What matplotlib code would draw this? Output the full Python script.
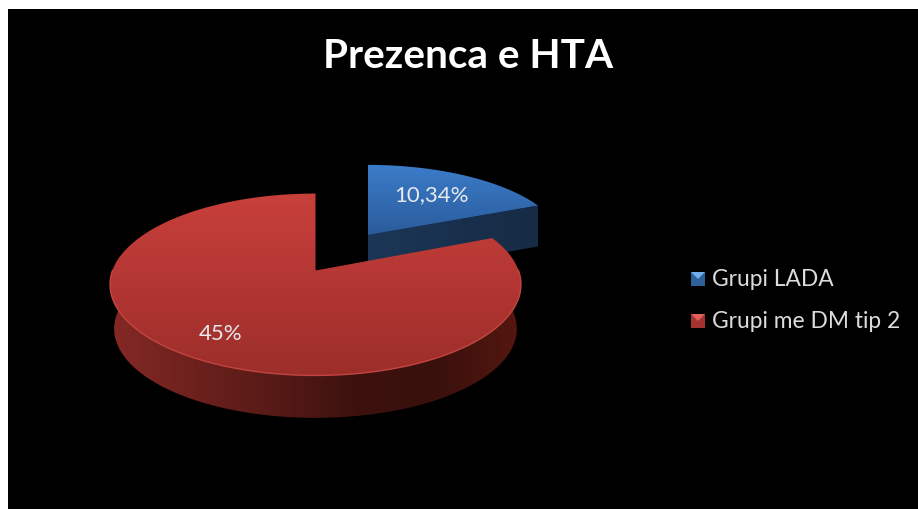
"""Prezenca e HTA - tilted pie with one slice pulled out."""

import numpy as np
import matplotlib

matplotlib.use("Agg")
import matplotlib.pyplot as plt
from matplotlib.colors import LinearSegmentedColormap
from matplotlib.patches import Polygon, Rectangle

TITLE = "Prezenca e HTA"
CATEGORIES = ["Grupi LADA", "Grupi me DM tip 2"]
VALUES = [10.34, 45]
VALUE_LABELS = ["10,34%", "45%"]

WIDTH, HEIGHT = 918, 510
TILT = 0.154
DEPTH = 41
FONT = "Lato"


def project(theta, apex, half_x, half_y, shrink=1.0, drop=0.0):
    """Map plane angles on the unit circle to the picture, with perspective."""
    rad = np.radians(theta)
    u, v = np.cos(rad), np.sin(rad)
    w = 1 + TILT * v
    x = apex[0] + shrink * half_x * u / w
    y = apex[1] + drop - shrink * half_y * v / w
    return np.column_stack([x, y])


def fill_gradient(ax, points, colors, horizontal=False, zorder=2):
    """Fill a polygon with a linear gradient, clipped through imshow."""
    patch = Polygon(points, closed=True, fc="none", ec="none", zorder=zorder)
    ax.add_patch(patch)
    cmap = LinearSegmentedColormap.from_list("g", colors)
    ramp = np.linspace(0, 1, 256)
    ramp = ramp[None, :] if horizontal else ramp[:, None]
    x0, y0 = points.min(axis=0)
    x1, y1 = points.max(axis=0)
    image = ax.imshow(
        ramp,
        cmap=cmap,
        extent=(x0, x1, y1, y0),
        origin="upper",
        aspect="auto",
        interpolation="bilinear",
        zorder=zorder,
    )
    image.set_clip_path(patch)


fig = plt.figure(figsize=(WIDTH / 100, HEIGHT / 100), dpi=100, facecolor="white")
ax = fig.add_axes([0, 0, 1, 1])
ax.set_axis_off()
ax.add_patch(Rectangle((8, 10), WIDTH, HEIGHT, fc="black", ec="none", zorder=0))

# slices run clockwise from twelve o'clock
sweeps = 360 * np.array(VALUES) / np.sum(VALUES)
blue_end = 90 - sweeps[0]
blue_arc = np.linspace(90, blue_end, 80)
red_arc = np.linspace(blue_end, blue_end - sweeps[1], 400)

# blue slice
blue_apex = (368, 236)
blue_x, blue_y = 210, 87
blue_outer = project(blue_arc, blue_apex, blue_x, blue_y, shrink=0.93)
blue_top = np.vstack([blue_apex, blue_outer])
tip = blue_outer[-1]
cut = np.array(
    [blue_apex, tip, tip + [0, DEPTH], [blue_apex[0], blue_apex[1] + DEPTH]]
)
fill_gradient(ax, cut, ["#1b3656", "#162b45"], horizontal=True, zorder=2)
fill_gradient(ax, blue_top, ["#3b7cc9", "#2b5c9c"], zorder=3)

# red slice
red_apex = (315.5, 271.5)
red_x, red_y = 203, 88.8
wall_arc = np.linspace(170, blue_end + 360, 300)
wall = np.vstack(
    [
        project(wall_arc, red_apex, red_x, red_y),
        project(wall_arc[::-1], red_apex, red_x, red_y, shrink=0.98, drop=44.5),
    ]
)
fill_gradient(
    ax,
    wall,
    ["#842925", "#6e211d", "#561a16", "#3c110e", "#3a100d", "#55170f"],
    horizontal=True,
    zorder=4,
)
red_outer = project(red_arc, red_apex, red_x, red_y)
red_top = np.vstack([red_apex, red_outer])
fill_gradient(ax, red_top, ["#c8403b", "#b33633", "#9c2e2a"], zorder=5)
front = project(np.linspace(180, 360, 200), red_apex, red_x, red_y)
ax.plot(front[:, 0], front[:, 1], color="#c4453f", lw=1.0, zorder=6)

# value labels
label_spots = [(431, 195), (221, 334)]
for text, (x, y) in zip(VALUE_LABELS, label_spots):
    ax.text(x, y, text, color="#e6e9ee", fontsize=16, family=FONT,
            ha="center", va="center", zorder=7)

ax.text(468, 56, TITLE, color="white", fontsize=29.2, fontweight="bold",
        family=FONT, ha="center", va="center", zorder=7)

# legend
legend_rows = [280, 322]
legend_colors = [("#2f6198", "#6fb0ea"), ("#a33230", "#e0605a")]
for name, y, (base, light) in zip(CATEGORIES, legend_rows, legend_colors):
    ax.add_patch(Rectangle((691, y - 7), 14, 14, fc=base, ec="none", zorder=7))
    ax.add_patch(
        Polygon([(691, y - 7), (705, y - 7), (698, y)], fc=light, ec="none", zorder=8)
    )
    ax.text(712, y, name, color="#dcdcdc", fontsize=16.4, family=FONT,
            ha="left", va="center", zorder=7)

ax.set_xlim(0, WIDTH)
ax.set_ylim(HEIGHT, 0)
fig.savefig("out.png", dpi=100, facecolor="white")
